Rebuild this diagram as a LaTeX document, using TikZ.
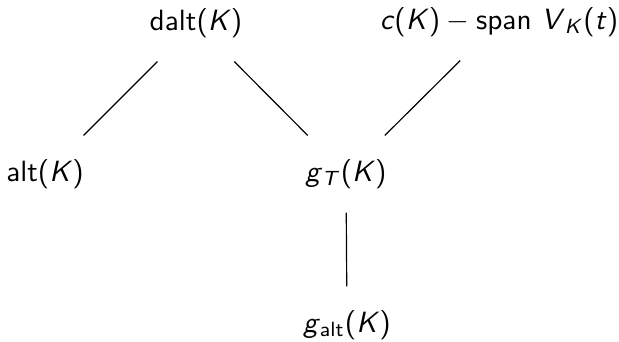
\documentclass[tikz,border=0pt]{standalone}
\usepackage{amsmath,amssymb}
\usepackage{tikz}

\newcommand{\iv}[1]{{\itshape #1\/}}

\begin{document}
\begin{tikzpicture}[x=0.012cm,y=-0.012cm,every node/.style={font=\sffamily,minimum height=0.912cm,inner sep=0pt}]
\useasboundingbox (0,0) rectangle (619,341);
\node (dalt) at (196,23) {dalt(\iv{K})};
\node (cspan) at (499,22) {\iv{c}(\iv{K})${}-{}$span\ \iv{V}\textsubscript{\iv{K}}(\iv{t})};
\node (alt) at (45,174) {alt(\iv{K})};
\node (gT) at (346,174) {\iv{g}\textsubscript{\iv{T}}(\iv{K})};
\node (galt) at (347,325) {\iv{g}\textsubscript{alt}(\iv{K})};
\draw (dalt) -- (alt);
\draw (dalt) -- (gT);
\draw (cspan) -- (gT);
\draw (gT) -- (galt);
\end{tikzpicture}
\end{document}
